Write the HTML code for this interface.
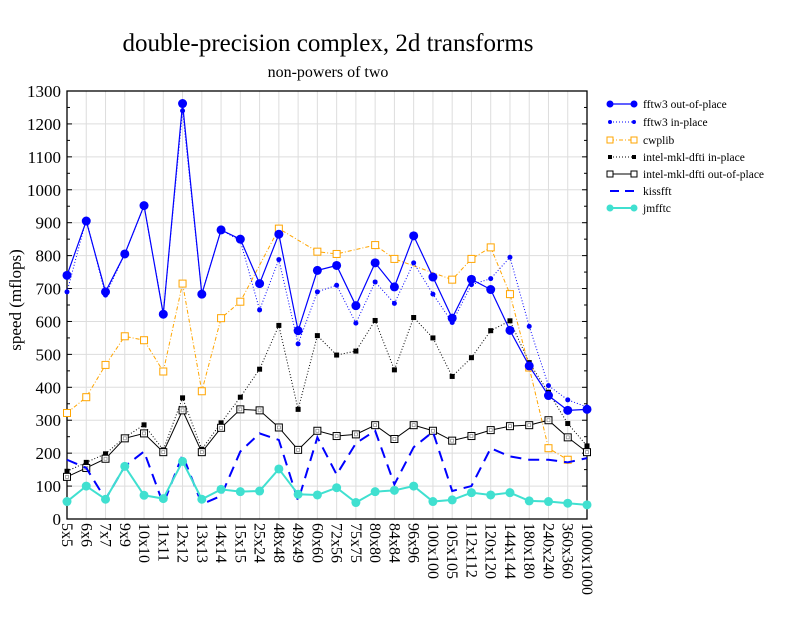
<!DOCTYPE html>
<html><head><meta charset="utf-8"><style>
body{margin:0;background:#fff}
svg{font-family:"Liberation Serif",serif}
</style></head><body>
<svg id="s" width="792" height="612" xmlns="http://www.w3.org/2000/svg">
<rect width="792" height="612" fill="#fff"/>
<text x="328" y="51" font-size="25" text-anchor="middle">double-precision complex, 2d transforms</text>
<text x="328" y="77" font-size="16" text-anchor="middle">non-powers of two</text>
<text transform="translate(21,300) rotate(-90)" font-size="17" text-anchor="middle">speed (mflops)</text>
<g id="g"></g>
<g font-size="11.5">
<line x1="610" y1="104" x2="634" y2="104" stroke="#00f" stroke-width="1.2"/><circle cx="610" cy="104" r="3.5" fill="#00f"/><circle cx="634" cy="104" r="3.5" fill="#00f"/><text x="643" y="108">fftw3 out-of-place</text>
<line x1="610" y1="122" x2="634" y2="122" stroke="#00f" stroke-dasharray="1,2"/><circle cx="610" cy="122" r="2" fill="#00f"/><circle cx="634" cy="122" r="2" fill="#00f"/><text x="643" y="126">fftw3 in-place</text>
<line x1="610" y1="140" x2="634" y2="140" stroke="orange" stroke-dasharray="4,2,1,2"/><rect x="607" y="137" width="6" height="6" fill="#fff" stroke="orange"/><rect x="631" y="137" width="6" height="6" fill="#fff" stroke="orange"/><text x="643" y="144">cwplib</text>
<line x1="610" y1="157" x2="634" y2="157" stroke="#000" stroke-dasharray="1,2"/><rect x="608" y="155" width="4" height="4"/><rect x="632" y="155" width="4" height="4"/><text x="643" y="161">intel-mkl-dfti in-place</text>
<line x1="610" y1="174" x2="634" y2="174" stroke="#000"/><rect x="607" y="171" width="6" height="6" fill="#fff" stroke="#000"/><rect x="631" y="171" width="6" height="6" fill="#fff" stroke="#000"/><text x="643" y="178">intel-mkl-dfti out-of-place</text>
<line x1="610" y1="191" x2="634" y2="191" stroke="#00f" stroke-width="2" stroke-dasharray="9,6"/><text x="643" y="195">kissfft</text>
<line x1="610" y1="208" x2="634" y2="208" stroke="#40e0d0" stroke-width="2"/><circle cx="610" cy="208" r="3.5" fill="#40e0d0"/><circle cx="634" cy="208" r="3.5" fill="#40e0d0"/><text x="643" y="212">jmfftc</text>
</g>
</svg>
<script>
var L=67,R=587,T=91,B=519,n=28,dx=(R-L)/(n-1);
function X(i){return L+i*dx}function Y(v){return B-v*(B-T)/1300}
var labs=["5x5","6x6","7x7","9x9","10x10","11x11","12x12","13x13","14x14","15x15","25x24","48x48","49x49","60x60","72x56","75x75","80x80","84x84","96x96","100x100","105x105","112x112","120x120","144x144","180x180","240x240","360x360","1000x1000"];
var h='';
for(var i=0;i<n;i++)h+='<line x1="'+X(i)+'" y1="'+T+'" x2="'+X(i)+'" y2="'+B+'" stroke="#ddd"/>';
for(var v=0;v<=1300;v+=100){h+='<line x1="'+L+'" y1="'+Y(v)+'" x2="'+R+'" y2="'+Y(v)+'" stroke="#ddd"/>';
h+='<text x="61" y="'+(Y(v)+6)+'" font-size="17" text-anchor="end">'+v+'</text>';
h+='<line x1="'+L+'" y1="'+Y(v)+'" x2="'+(L+5)+'" y2="'+Y(v)+'" stroke="#000"/><line x1="'+R+'" y1="'+Y(v)+'" x2="'+(R-5)+'" y2="'+Y(v)+'" stroke="#000"/>';
if(v<1300)h+='<line x1="'+L+'" y1="'+Y(v+50)+'" x2="'+(L+3)+'" y2="'+Y(v+50)+'" stroke="#000"/><line x1="'+R+'" y1="'+Y(v+50)+'" x2="'+(R-3)+'" y2="'+Y(v+50)+'" stroke="#000"/>';}
for(var i=0;i<n;i++)h+='<text transform="translate('+(X(i)-5)+',523) rotate(90)" font-size="16">'+labs[i]+'</text>';
h+='<rect x="'+L+'" y="'+T+'" width="'+(R-L)+'" height="'+(B-T)+'" fill="none" stroke="#000" stroke-width="1.3"/>';
function line(d,st){var p=[];d.forEach(function(v,i){if(v!=null)p.push(X(i)+','+Y(v))});return '<polyline fill="none" points="'+p.join(' ')+'" '+st+'/>'}
function mk(d,f){var s='';d.forEach(function(v,i){if(v!=null)s+=f(X(i),Y(v))});return s}
var jm=[53,100,60,160,72,62,175,60,90,83,85,152,75,73,95,50,83,87,100,53,58,80,73,80,55,53,48,43];
var ki=[180,155,60,160,205,45,195,45,70,205,260,240,55,248,135,230,268,105,218,265,85,100,215,190,180,180,172,185];
var io=[128,155,183,245,260,203,330,203,277,333,330,278,210,268,252,257,285,243,285,268,238,252,270,282,285,300,248,203];
var ii=[145,172,198,248,286,210,368,212,292,370,455,588,333,557,498,510,603,453,612,550,433,490,572,602,475,385,290,222];
var cw=[322,370,468,555,543,448,715,388,610,660,null,882,null,812,805,null,832,790,null,null,727,790,825,683,460,215,180,null];
var fi=[690,910,680,805,950,625,1240,685,878,845,635,788,532,690,710,595,720,655,778,683,597,712,730,795,585,405,362,340];
var fo=[740,905,690,805,952,622,1262,683,878,850,715,865,572,755,770,648,778,705,860,735,610,728,697,573,465,375,330,333];
h+=line(ii,'stroke="#000" stroke-dasharray="1,2"')+mk(ii,function(x,y){return '<rect x="'+(x-2.5)+'" y="'+(y-2.5)+'" width="5" height="5"/>'});
h+=line(io,'stroke="#000"')+mk(io,function(x,y){return '<rect x="'+(x-3.5)+'" y="'+(y-3.5)+'" width="7" height="7" fill="#fff" stroke="#000"/><rect x="'+(x-1.5)+'" y="'+(y-1.5)+'" width="3" height="3" fill="none" stroke="#888" stroke-width=".7"/>'});
h+=line(cw,'stroke="orange" stroke-dasharray="4,2,1,2"')+mk(cw,function(x,y){return '<rect x="'+(x-3.5)+'" y="'+(y-3.5)+'" width="7" height="7" fill="#fff" stroke="orange"/>'});
h+=line(ki,'stroke="#00f" stroke-width="2" stroke-dasharray="11,7"');
h+=line(jm,'stroke="#40e0d0" stroke-width="2"')+mk(jm,function(x,y){return '<circle cx="'+x+'" cy="'+y+'" r="4.5" fill="#40e0d0"/>'});
h+=line(fi,'stroke="#00f" stroke-dasharray="1,2"')+mk(fi,function(x,y){return '<circle cx="'+x+'" cy="'+y+'" r="2.5" fill="#00f"/>'});
h+=line(fo,'stroke="#00f" stroke-width="1.2"')+mk(fo,function(x,y){return '<circle cx="'+x+'" cy="'+y+'" r="4.5" fill="#00f"/>'});
document.getElementById('g').innerHTML=h;
</script>
</body></html>
